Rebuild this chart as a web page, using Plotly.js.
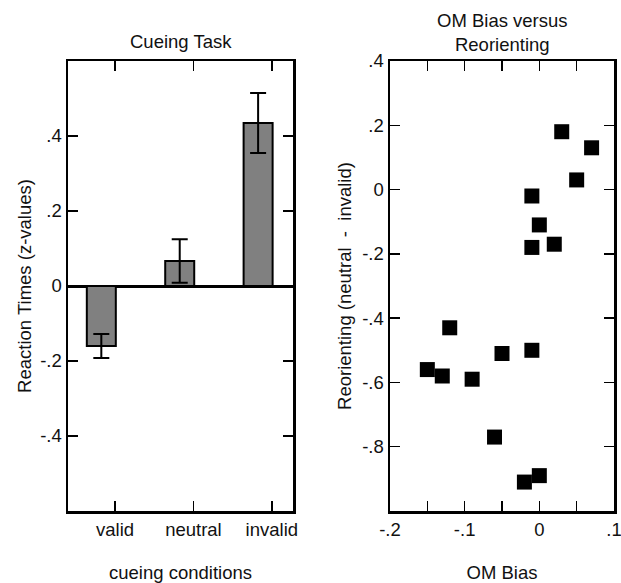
<!DOCTYPE html>
<html>
<head>
<meta charset="utf-8">
<script src="https://cdn.plot.ly/plotly-3.0.1.min.js"></script>
<style>html,body{margin:0;padding:0;background:#fff;}#chart{width:621px;height:583px;}</style>
</head>
<body>
<div id="chart"></div>
<script>
// Left panel: cueing task
const conditions = ["valid", "neutral", "invalid"];
const conditionPos = [0, 1, 2];
const rtMeans = [-0.16, 0.067, 0.435];
const rtErrors = [0.032, 0.058, 0.08];
const leftYTicks = [-0.4, -0.2, 0, 0.2, 0.4];
const leftYTickText = ["-.4", "-.2", "0", ".2", ".4"];

// Right panel: OM bias vs reorienting
const omBias = [0.03, 0.07, 0.05, -0.01, 0.0, -0.01, 0.02, -0.12, -0.05, -0.01, -0.15, -0.13, -0.09, -0.06, -0.02, 0.0];
const reorienting = [0.18, 0.13, 0.03, -0.02, -0.11, -0.18, -0.17, -0.43, -0.51, -0.50, -0.56, -0.58, -0.59, -0.77, -0.91, -0.89];
const rightXTicks = [-0.2, -0.15, -0.1, -0.05, 0, 0.05, 0.1];
const rightXTickText = ["-.2", "", "-.1", "", "0", "", ".1"];
const rightYTicks = [-0.8, -0.6, -0.4, -0.2, 0, 0.2, 0.4];
const rightYTickText = ["-.8", "-.6", "-.4", "-.2", "0", ".2", ".4"];

const FONT = "Liberation Sans, Arial, sans-serif";
const TXT = "#111";
const FS = 18.5;

const traces = [
  {
    type: "bar", x: conditionPos, y: rtMeans, xaxis: "x", yaxis: "y",
    width: 0.37, offset: -0.36,
    marker: {color: "#808080", line: {color: "#000", width: 2}},
    error_y: {type: "data", array: rtErrors, visible: true, color: "#000", thickness: 2, width: 8},
    showlegend: false, hoverinfo: "skip"
  },
  {
    type: "scatter", mode: "markers", x: omBias, y: reorienting, xaxis: "x2", yaxis: "y2",
    marker: {symbol: "square", size: 15, color: "#000"},
    showlegend: false, hoverinfo: "skip"
  }
];

const axisCommon = {
  showline: true, linecolor: "#000", linewidth: 2.5, mirror: "allticks",
  ticks: "inside", ticklen: 10, tickwidth: 1.5, tickcolor: "#000",
  showgrid: false, zeroline: false, fixedrange: true,
  tickfont: {family: FONT, size: FS, color: TXT}
};

const layout = {
  width: 621, height: 583,
  margin: {l: 0, r: 0, t: 61, b: 72},
  paper_bgcolor: "#fff", plot_bgcolor: "#fff",
  font: {family: FONT, size: FS, color: TXT},
  xaxis: Object.assign({}, axisCommon, {
    domain: [68/621, 293/621], range: [-0.6, 2.27], anchor: "y",
    tickvals: conditionPos, ticktext: conditions,
    title: {text: "cueing conditions", font: {family: FONT, size: FS, color: TXT}, standoff: 29}
  }),
  yaxis: Object.assign({}, axisCommon, {
    domain: [0, 1], range: [-0.6, 0.6], anchor: "x",
    tickvals: leftYTicks, ticktext: leftYTickText,
    zeroline: true, zerolinecolor: "#000", zerolinewidth: 3,
    title: {text: "Reaction Times (z-values)", font: {family: FONT, size: FS, color: TXT}, standoff: 4}
  }),
  xaxis2: Object.assign({}, axisCommon, {
    domain: [390/621, 614/621], range: [-0.2, 0.1], anchor: "y2",
    tickvals: rightXTicks, ticktext: rightXTickText, ticklabeloverflow: "allow",
    title: {text: "OM Bias", font: {family: FONT, size: FS, color: TXT}, standoff: 29}
  }),
  yaxis2: Object.assign({}, axisCommon, {
    domain: [0, 1], range: [-1.0, 0.4], anchor: "x2",
    tickvals: rightYTicks, ticktext: rightYTickText,
    title: {text: "Reorienting (neutral  -  invalid)", font: {family: FONT, size: FS, color: TXT}, standoff: 6}
  }),
  annotations: [
    {text: "Cueing Task", xref: "x domain", yref: "paper", x: 0.5, y: 1, yshift: 20,
     showarrow: false, xanchor: "center", yanchor: "middle", font: {family: FONT, size: FS, color: TXT}},
    {text: "OM Bias versus<br>Reorienting", xref: "x2 domain", yref: "paper", x: 0.5, y: 1, yshift: 29,
     showarrow: false, xanchor: "center", yanchor: "middle", font: {family: FONT, size: FS, color: TXT}}
  ]
};

Plotly.newPlot("chart", traces, layout, {staticPlot: true, displayModeBar: false});
</script>
</body>
</html>
